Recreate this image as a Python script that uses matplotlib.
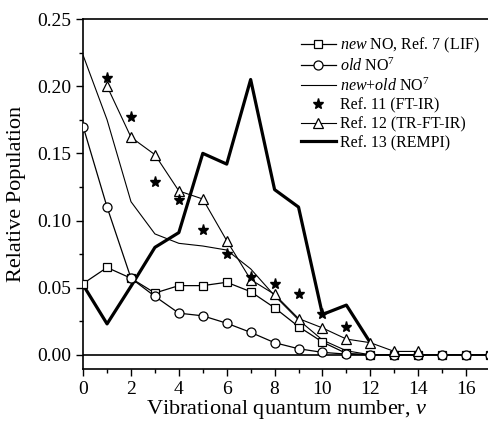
import numpy as np
import matplotlib
matplotlib.use('Agg')
import matplotlib.pyplot as plt
from matplotlib.ticker import MultipleLocator

plt.rcParams['font.family'] = 'Liberation Serif'
plt.rcParams['mathtext.fontset'] = 'custom'
plt.rcParams['mathtext.rm'] = 'Liberation Serif'
plt.rcParams['mathtext.it'] = 'Liberation Serif:italic'

# vibrational levels
v_all = np.arange(0, 18)
new_no = [0.053, 0.065, 0.057, 0.046, 0.0515, 0.0515, 0.054, 0.047, 0.035, 0.021,
          0.0095, 0.001, 0, 0, 0, 0, 0, 0]
old_no = [0.170, 0.110, 0.057, 0.0435, 0.031, 0.029, 0.0235, 0.0167, 0.009, 0.0045,
          0.0018, 0.0005, 0, 0, 0, 0, 0, 0]
new_old = [0.223, 0.175, 0.114, 0.090, 0.083, 0.081, 0.078, 0.064, 0.044, 0.026,
           0.011, 0.003, 0, 0, 0, 0, 0, 0]

v_ftir = np.arange(1, 12)
ref11 = [0.206, 0.177, 0.129, 0.115, 0.093, 0.075, 0.058, 0.053, 0.045, 0.030, 0.021]

v_tr = np.arange(1, 15)
ref12 = [0.200, 0.162, 0.149, 0.122, 0.116, 0.085, 0.056, 0.045, 0.027, 0.020,
         0.0117, 0.009, 0.0025, 0.0025]

v_rempi = np.arange(0, 13)
ref13 = [0.052, 0.023, 0.051, 0.080, 0.091, 0.150, 0.142, 0.205, 0.123, 0.110,
         0.030, 0.037, 0.009]

fig = plt.figure(figsize=(4.89, 4.24), dpi=100)
ax = fig.add_axes([0.170, 0.130, 0.832, 0.825])

ax.axhline(0, color='black', lw=1.2, zorder=1)
ax.plot(v_all, new_no, '-s', color='black', lw=0.9, ms=5.5, mfc='white', mew=0.9,
        label='$\\it{new}$ NO, Ref. 7 (LIF)', zorder=4)
ax.plot(v_all, old_no, '-o', color='black', lw=0.9, ms=6.5, mfc='white', mew=0.9,
        label='$\\it{old}$ NO$^7$', zorder=4)
ax.plot(v_all, new_old, '-', color='black', lw=0.8,
        label='$\\it{new}$+$\\it{old}$ NO$^7$', zorder=3)
ax.plot(v_ftir, ref11, '*', color='black', ms=8, ls='none',
        label='Ref. 11 (FT-IR)', zorder=5)
ax.plot(v_tr, ref12, '-^', color='black', lw=0.8, ms=7, mfc='white', mew=0.9,
        label='Ref. 12 (TR-FT-IR)', zorder=4)
ax.plot(v_rempi, ref13, '-', color='black', lw=2.3,
        label='Ref. 13 (REMPI)', zorder=3)

ax.set_xlim(0, 17)
ax.set_ylim(-0.0105, 0.25)
ax.xaxis.set_major_locator(MultipleLocator(2))
ax.xaxis.set_minor_locator(MultipleLocator(1))
ax.yaxis.set_major_locator(MultipleLocator(0.05))
ax.yaxis.set_minor_locator(MultipleLocator(0.025))
ax.yaxis.set_major_formatter(matplotlib.ticker.FormatStrFormatter('%.2f'))
ax.tick_params(which='both', direction='out', labelsize=14, width=1)
ax.tick_params(which='major', length=5)
ax.tick_params(which='minor', length=3)
ax.spines['right'].set_visible(False)
for s in ['top', 'left', 'bottom']:
    ax.spines[s].set_linewidth(1.2)

ax.set_xlabel('Vibrational quantum number, $\\it{v}$', fontsize=16, labelpad=0)
ax.set_ylabel('Relative Population', fontsize=16, labelpad=8)

ax.legend(loc='upper right', bbox_to_anchor=(1.0, 0.98), frameon=False, fontsize=11.5,
          handlelength=2.2, handletextpad=0.3, labelspacing=0.17, borderaxespad=0.2)

fig.savefig('out.png', dpi=100)
